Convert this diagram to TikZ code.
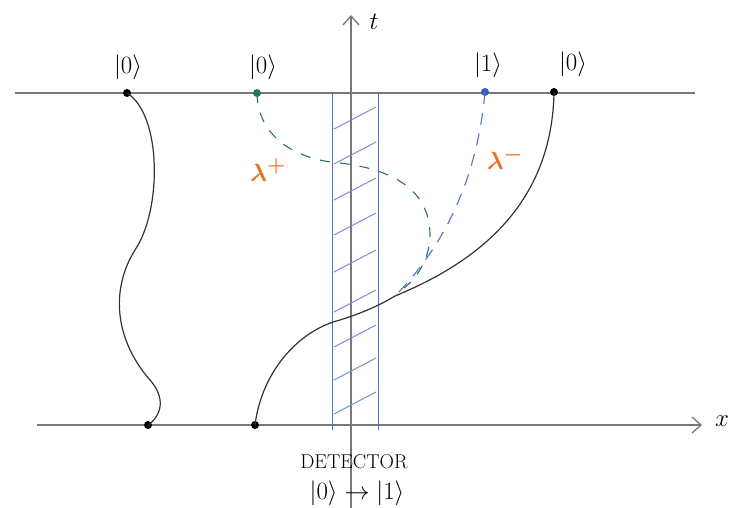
\documentclass[tikz,border=0pt]{standalone}
\usetikzlibrary{arrows.meta}
\definecolor{axisgray}{RGB}{120,120,120}
\definecolor{detblue}{RGB}{85,115,205}
\definecolor{pgreen}{RGB}{45,115,85}
\definecolor{lamorange}{RGB}{235,110,35}
\definecolor{dotblue}{RGB}{60,90,190}
\begin{document}
\begin{tikzpicture}[x=1pt,y=-1pt,
  axisline/.style={draw=axisgray, line width=1.3pt},
  detline/.style={draw=detblue, line width=1pt},
  hatch/.style={draw=detblue!80, line width=1pt, line cap=round},
  world/.style={draw=black!80, line width=1.2pt},
  dotnode/.style={circle, fill=#1, inner sep=0pt, minimum size=8pt},
  lab/.style={font=\fontsize{24}{28}\selectfont},
  detlab/.style={font=\fontsize{20}{24}\selectfont},
  lamlab/.style={text=lamorange, font=\fontsize{30}{32}\selectfont\boldmath},
  tip/.style={-{Straight Barb[length=9pt,width=16pt,line width=1.3pt]}}
]
\useasboundingbox (0,0) rectangle (732,507);
% axes
\coordinate (tl) at (15,93);
\coordinate (tr) at (695,93);
\coordinate (bl) at (37,425);
\coordinate (br) at (702,425);
\coordinate (tb) at (351,515);
\coordinate (tt) at (351,15);
\draw[axisline] (tl) -- (tr);
\draw[axisline, tip] (bl) -- (br);
\draw[axisline, tip] (tb) -- (tt);
\node[lab, anchor=west] (tlab) at (366,22) {$t$};
\node[lab] (xlab) at (722,421) {$x$};
% detector
\coordinate (d1t) at (332,93);
\coordinate (d1b) at (332,430);
\coordinate (d2t) at (378,93);
\coordinate (d2b) at (378,430);
\draw[detline] (d1t) -- (d1b);
\draw[detline] (d2t) -- (d2b);
\foreach \y in {107,142,178,213,250,290,325,358,392}
  \draw[hatch] (334,\y+22) -- (376,\y);
\node[detlab] (det) at (354,462) {DETECTOR};
\node[lab] (trans) at (357,493) {$|0\rangle \rightarrow |1\rangle$};
% dots
\node[dotnode=black] (a) at (127,93) {};
\node[dotnode=pgreen] (g) at (257,93) {};
\node[dotnode=dotblue] (b) at (485,92) {};
\node[dotnode=black] (c) at (554,92) {};
\node[dotnode=black] (a2) at (148,425) {};
\node[dotnode=black] (c2) at (255,425) {};
% kets
\node[lab] (ka) at (128,67) {$|0\rangle$};
\node[lab] (kg) at (263,67) {$|0\rangle$};
\node[lab] (kb) at (488,65) {$|1\rangle$};
\node[lab] (kc) at (573,64) {$|0\rangle$};
% worldlines
\draw[world] (a.center) .. controls (162,115) and (162,210) .. (135,250)
  .. controls (110,290) and (115,340) .. (150,380)
  .. controls (170,403) and (156,420) .. (a2.center);
\coordinate (m) at (395,296);
\draw[world] (c2.center) .. controls (262,370) and (300,330) .. (340,320)
  .. controls (365,312) and (380,305) .. (m)
  .. controls (470,265) and (552,210) .. (c.center);
% photon paths
\coordinate (ge) at (404,288);
\draw[pgreen, line width=1.1pt, dash pattern=on 10pt off 10pt]
  (g.center) .. controls (258,140) and (300,160) .. (340,163)
  .. controls (400,170) and (430,195) .. (430,235)
  .. controls (430,260) and (415,280) .. (ge);
\draw[detblue, line width=1.1pt, dash pattern=on 12pt off 9pt]
  (b.center) .. controls (478,170) and (450,240) .. (m);
% lambda labels
\node[lamlab] (lp) at (268,170) {$\lambda^{+}$};
\node[lamlab] (lm) at (505,158) {$\lambda^{-}$};
\end{tikzpicture}
\end{document}
